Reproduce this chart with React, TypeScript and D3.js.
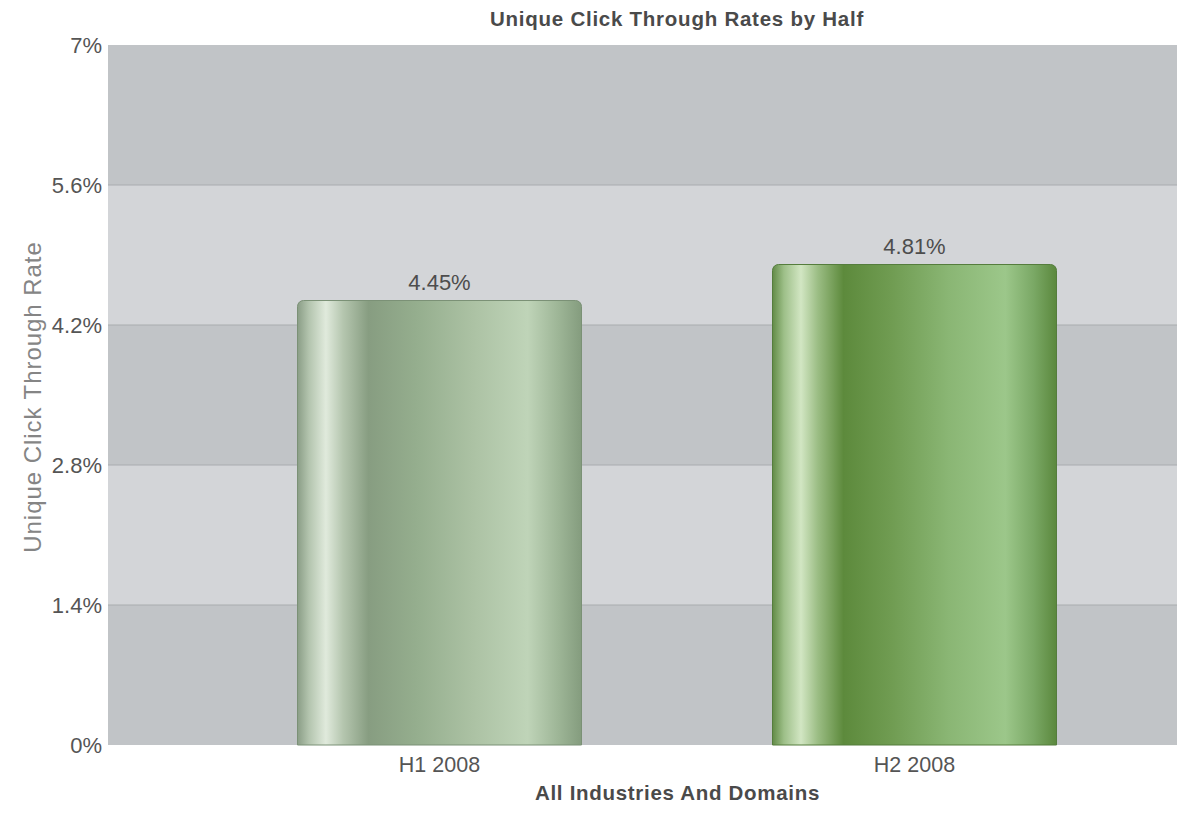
import React from "react";
import * as d3 from "d3";

// Chart data
const categories: string[] = ["H1 2008", "H2 2008"];
const rates: number[] = [4.45, 4.81];
const yTicks: number[] = [0, 1.4, 2.8, 4.2, 5.6, 7];
const yTickLabels: string[] = ["0%", "1.4%", "2.8%", "4.2%", "5.6%", "7%"];
const valueLabels: string[] = ["4.45%", "4.81%"];

// Horizontal "cylinder" gradients per bar
const barGradients: { offset: number; color: string }[][] = [
  [
    { offset: 0, color: "#8a9d86" },
    { offset: 0.04, color: "#b3c4ae" },
    { offset: 0.1, color: "#e0eadc" },
    { offset: 0.16, color: "#b5c6af" },
    { offset: 0.25, color: "#879d81" },
    { offset: 0.42, color: "#95ae8e" },
    { offset: 0.62, color: "#acc2a4" },
    { offset: 0.81, color: "#bfd4b8" },
    { offset: 0.92, color: "#9db596" },
    { offset: 1, color: "#849c7e" },
  ],
  [
    { offset: 0, color: "#628b47" },
    { offset: 0.04, color: "#9dbf88" },
    { offset: 0.1, color: "#d2e6c3" },
    { offset: 0.16, color: "#9bbd84" },
    { offset: 0.25, color: "#5d8a3c" },
    { offset: 0.42, color: "#709c52" },
    { offset: 0.62, color: "#8ab674" },
    { offset: 0.82, color: "#9cc78a" },
    { offset: 0.92, color: "#7aa865" },
    { offset: 1, color: "#5b883d" },
  ],
];
const barStrokes: string[] = ["#7b9176", "#557d3d"];

const W = 1184;
const H = 813;
const plot = { left: 108, right: 1177, top: 45, bottom: 745 };

function topRoundedBar(x: number, y: number, w: number, h: number, r: number): string {
  const p = d3.path();
  p.moveTo(x, y + h);
  p.lineTo(x, y + r);
  p.arcTo(x, y, x + r, y, r);
  p.lineTo(x + w - r, y);
  p.arcTo(x + w, y, x + w, y + r, r);
  p.lineTo(x + w, y + h);
  p.closePath();
  return p.toString();
}

export default function App() {
  const y = d3.scaleLinear().domain([0, 7]).range([plot.bottom, plot.top]);
  const x = d3
    .scaleBand<string>()
    .domain(categories)
    .range([202, 1152])
    .paddingInner(0.4)
    .paddingOuter(0.2);

  const bands = yTicks.slice(0, -1).map((t, i) => ({
    y0: y(yTicks[i + 1]),
    y1: y(t),
    dark: i % 2 === 0,
  }));

  const font = "'Liberation Sans', Arial, Helvetica, sans-serif";

  return (
    <svg
      width={W}
      height={H}
      viewBox={`0 0 ${W} ${H}`}
      style={{ position: "absolute", left: 0, top: 0, background: "#ffffff" }}
      fontFamily={font}
    >
      <defs>
        {barGradients.map((stops, i) => (
          <linearGradient key={i} id={`barGrad${i}`} x1="0" y1="0" x2="1" y2="0">
            {stops.map((s, j) => (
              <stop key={j} offset={s.offset} stopColor={s.color} />
            ))}
          </linearGradient>
        ))}
      </defs>

      {/* alternating plot bands */}
      {bands.map((b, i) => (
        <rect
          key={i}
          x={plot.left}
          y={b.y0}
          width={plot.right - plot.left}
          height={b.y1 - b.y0}
          fill={b.dark ? "#c1c4c7" : "#d3d5d8"}
        />
      ))}

      {/* grid lines */}
      {yTicks.slice(1, -1).map((t) => (
        <line
          key={t}
          x1={plot.left}
          x2={plot.right}
          y1={y(t)}
          y2={y(t)}
          stroke="#a9acaf"
          strokeWidth={1}
        />
      ))}

      {/* y tick labels */}
      {yTicks.map((t, i) => (
        <text
          key={t}
          x={102}
          y={y(t)}
          dy="0.36em"
          textAnchor="end"
          fontSize={22}
          fill="#555555"
        >
          {yTickLabels[i]}
        </text>
      ))}

      {/* bars */}
      {categories.map((c, i) => {
        const bx = x(c)!;
        const bw = x.bandwidth();
        const by = y(rates[i]);
        const bh = y(0) - by;
        return (
          <g key={c}>
            <path
              d={topRoundedBar(bx + 0.5, by + 0.5, bw - 1, bh - 0.5, 6)}
              fill={`url(#barGrad${i})`}
              stroke={barStrokes[i]}
              strokeWidth={1}
            />
            <text
              x={bx + bw / 2}
              y={by - 10}
              textAnchor="middle"
              fontSize={22}
              fill="#4d4d4d"
            >
              {valueLabels[i]}
            </text>
            <text
              x={bx + bw / 2}
              y={772}
              textAnchor="middle"
              fontSize={21.5}
              fill="#555555"
            >
              {c}
            </text>
          </g>
        );
      })}

      {/* titles */}
      <text
        x={677}
        y={26}
        textAnchor="middle"
        fontSize={20.5}
        fontWeight="bold"
        letterSpacing={0.75}
        fill="#4a4a4a"
      >
        Unique Click Through Rates by Half
      </text>
      <text
        x={677.5}
        y={800}
        textAnchor="middle"
        fontSize={20.5}
        fontWeight="bold"
        letterSpacing={0.7}
        fill="#4a4a4a"
      >
        All Industries And Domains
      </text>
      <text
        transform="translate(41,397) rotate(-90)"
        textAnchor="middle"
        fontSize={24}
        letterSpacing={0.95}
        fill="#858585"
      >
        Unique Click Through Rate
      </text>
    </svg>
  );
}
